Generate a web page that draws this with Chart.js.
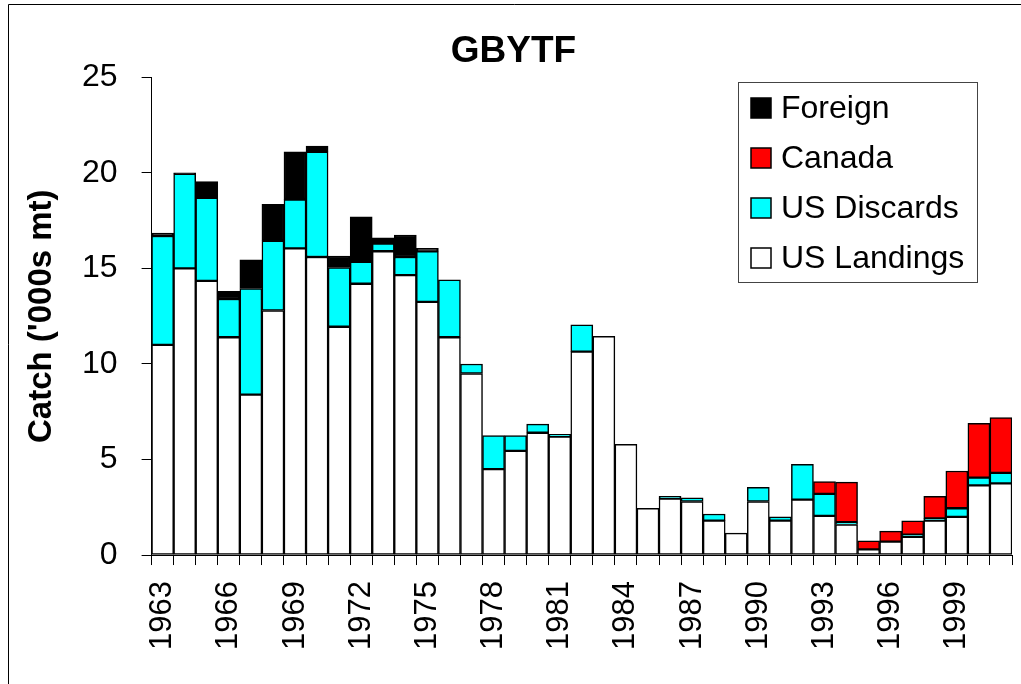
<!DOCTYPE html>
<html>
<head>
<meta charset="utf-8">
<script src="https://cdn.jsdelivr.net/npm/chart.js@4/dist/chart.umd.min.js"></script>
<style>
  html, body { margin: 0; padding: 0; background: #fff; }
  #wrap { width: 1021px; height: 684px; position: relative; }
</style>
</head>
<body>
<div id="wrap"><canvas id="catchChart" width="1021" height="684"></canvas></div>
<script>
// years on the x axis
const years = ['1963', '1964', '1965', '1966', '1967', '1968', '1969', '1970', '1971', '1972',
               '1973', '1974', '1975', '1976', '1977', '1978', '1979', '1980', '1981', '1982',
               '1983', '1984', '1985', '1986', '1987', '1988', '1989', '1990', '1991', '1992',
               '1993', '1994', '1995', '1996', '1997', '1998', '1999', '2000', '2001'];

// catch in '000s mt
const usLandings = [11.0, 15.0, 14.35, 11.4, 8.4, 12.8, 16.05, 15.6, 11.95, 14.2,
                    15.9, 14.65, 13.25, 11.4, 9.5, 4.5, 5.45, 6.4, 6.2, 10.65,
                    11.45, 5.8, 2.45, 2.95, 2.8, 1.8, 1.15, 2.8, 1.8, 2.9,
                    2.05, 1.6, 0.3, 0.7, 0.95, 1.8, 2.0, 3.65, 3.75];
const usDiscards = [5.7, 4.95, 4.35, 2.0, 5.55, 3.65, 2.55, 5.5, 3.1, 1.15,
                    0.4, 0.95, 2.65, 3.0, 0.5, 1.75, 0.8, 0.45, 0.12, 1.4,
                    0, 0, 0, 0.12, 0.2, 0.35, 0, 0.75, 0.2, 1.85,
                    1.15, 0.12, 0, 0, 0.12, 0.12, 0.45, 0.4, 0.55];
const canada =     [0, 0, 0, 0, 0, 0, 0, 0, 0, 0,
                    0, 0, 0, 0, 0, 0, 0, 0, 0, 0,
                    0, 0, 0, 0, 0, 0, 0, 0, 0, 0,
                    0.65, 2.1, 0.45, 0.55, 0.72, 1.15, 1.95, 2.85, 2.9];
const foreign =    [0.15, 0.05, 0.85, 0.4, 1.5, 1.9, 2.5, 0.3, 0.6, 2.35,
                    0.3, 1.15, 0.15, 0, 0, 0, 0, 0, 0, 0,
                    0, 0, 0, 0, 0, 0, 0, 0, 0, 0,
                    0, 0, 0, 0, 0, 0, 0, 0, 0];

const yTicks = [0, 5, 10, 15, 20, 25];

const FONT = "'Liberation Sans', Arial, sans-serif";

function bar(label, data, color) {
    return {
        label: label,
        data: data,
        backgroundColor: color,
        borderColor: '#000',
        borderWidth: 1.5,
        borderSkipped: false,
        categoryPercentage: 1.0,
        barPercentage: 1.0
    };
}

// boxed legend inside the plot, top right, plus the outer frame
const boxLegend = {
    id: 'boxLegend',
    afterDraw(chart) {
        const ctx = chart.ctx;
        ctx.save();
        // frame
        ctx.strokeStyle = '#000';
        ctx.lineWidth = 1;
        ctx.beginPath();
        ctx.moveTo(8.5, 684);
        ctx.lineTo(8.5, 4.5);
        ctx.lineTo(1021, 4.5);
        ctx.stroke();

        const x0 = 738, y0 = 82, w = 239, h = 200;
        ctx.fillStyle = '#fff';
        ctx.fillRect(x0, y0, w, h);
        ctx.strokeStyle = '#444';
        ctx.strokeRect(x0 + 0.5, y0 + 0.5, w, h);

        const sets = chart.data.datasets.slice().reverse();
        ctx.font = '32px ' + FONT;
        ctx.textBaseline = 'middle';
        ctx.textAlign = 'left';
        sets.forEach(function(ds, i) {
            const cy = 108 + i * 50;
            ctx.fillStyle = ds.backgroundColor;
            ctx.fillRect(751, cy - 10, 20, 20);
            ctx.strokeStyle = '#000';
            ctx.lineWidth = 1.5;
            ctx.strokeRect(751, cy - 10, 20, 20);
            ctx.fillStyle = '#000';
            ctx.fillText(ds.label, 781, cy + 1);
        });
        ctx.restore();
    }
};

const ctx = document.getElementById('catchChart').getContext('2d');
const catchChart = new Chart(ctx, {
    type: 'bar',
    data: {
        labels: years,
        datasets: [
            bar('US Landings', usLandings, '#ffffff'),
            bar('US Discards', usDiscards, '#00ffff'),
            bar('Canada', canada, '#ff0000'),
            bar('Foreign', foreign, '#000000')
        ]
    },
    options: {
        responsive: false,
        animation: false,
        layout: {
            padding: { left: 15, right: 9, top: 0, bottom: 18 }
        },
        plugins: {
            legend: { display: false },
            tooltip: { enabled: false },
            title: {
                display: true,
                text: 'GBYTF',
                color: '#000',
                font: { family: FONT, size: 37, weight: 'bold' },
                padding: { top: 30, bottom: 3 }
            }
        },
        scales: {
            x: {
                stacked: true,
                afterFit: function(axis) {
                    // rotated labels reserve side room we don't want
                    axis.paddingRight = 0;
                    axis.paddingLeft = 0;
                },
                border: { color: '#000', width: 1 },
                grid: {
                    offset: true,
                    drawOnChartArea: false,
                    drawTicks: true,
                    tickLength: 10,
                    color: '#000'
                },
                ticks: {
                    autoSkip: false,
                    maxRotation: 90,
                    minRotation: 90,
                    padding: 16,
                    color: '#000',
                    font: { family: FONT, size: 31 },
                    callback: function(value, index) {
                        return index % 3 === 0 ? years[index] : '';
                    }
                }
            },
            y: {
                stacked: true,
                min: 0,
                max: 25,
                afterBuildTicks: function(axis) {
                    axis.ticks = yTicks.map(function(v) { return { value: v }; });
                },
                border: { color: '#000', width: 1 },
                grid: {
                    drawOnChartArea: false,
                    drawTicks: true,
                    tickLength: 10,
                    color: '#000'
                },
                ticks: {
                    padding: 24,
                    color: '#000',
                    font: { family: FONT, size: 32 }
                },
                title: {
                    display: true,
                    text: "Catch ('000s mt)",
                    color: '#000',
                    font: { family: FONT, size: 33, weight: 'bold', lineHeight: 1.0 },
                    padding: { top: 10, bottom: 0 }
                }
            }
        }
    },
    plugins: [boxLegend]
});
</script>
</body>
</html>
